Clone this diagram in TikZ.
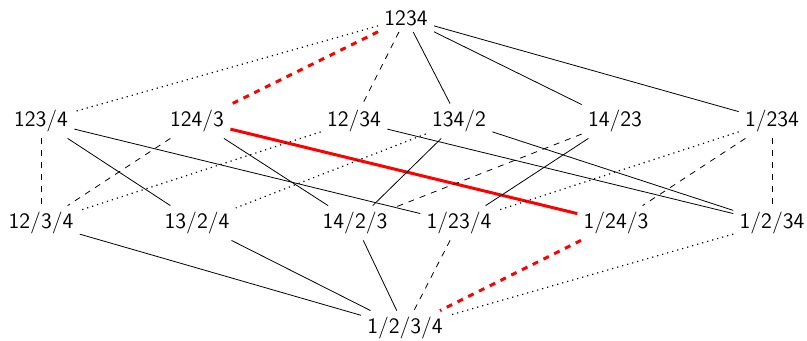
\documentclass[tikz,border=0pt]{standalone}
\begin{document}
\begin{tikzpicture}[x=0.5pt,y=-0.5pt,
	every node/.style={font=\sffamily\fontsize{11}{13}\selectfont,inner sep=3pt},
	hot/.style={red,line width=1.5pt}]
	\useasboundingbox (0,0) rectangle (807,341);
	% top
	\node (A) at (406,18) {1234};
	% second row
	\node (B1) at (41,121) {123/4};
	\node (B2) at (197,121) {124/3};
	\node (B3) at (354,121) {12/34};
	\node (B4) at (459,121) {134/2};
	\node (B5) at (615,121) {14/23};
	\node (B6) at (772,121) {1/234};
	% third row
	\node (C1) at (41,223) {12/3/4};
	\node (C2) at (197,223) {13/2/4};
	\node (C3) at (355,223) {14/2/3};
	\node (C4) at (459,223) {1/23/4};
	\node (C5) at (616,223) {1/24/3};
	\node (C6) at (772,223) {1/2/34};
	% bottom
	\node (D) at (405,328) {1/2/3/4};
	\draw[dotted,semithick] (A) -- (B1);
	\draw[hot,dashed] (A) -- (B2);
	\draw[dashed] (A) -- (B3);
	\draw (A) -- (B4);
	\draw (A) -- (B5);
	\draw (A) -- (B6);
	\draw[dashed] (B1) -- (C1);
	\draw (B1) -- (C2);
	\draw (B1) -- (C4);
	\draw[dashed] (B2) -- (C1);
	\draw (B2) -- (C3);
	\draw[hot] (B2) -- (C5);
	\draw[dotted,semithick] (B3) -- (C1);
	\draw (B3) -- (C6);
	\draw[dotted,semithick] (B4) -- (C2);
	\draw (B4) -- (C3);
	\draw (B4) -- (C6);
	\draw[dashed] (B5) -- (C3);
	\draw (B5) -- (C4);
	\draw[dotted,semithick] (B6) -- (C4);
	\draw[dashed] (B6) -- (C5);
	\draw[dashed] (B6) -- (C6);
	\draw (C1) -- (D);
	\draw (C2) -- (D);
	\draw (C3) -- (D);
	\draw[dashed] (C4) -- (D);
	\draw[hot,dashed] (C5) -- (D);
	\draw[dotted,semithick] (C6) -- (D);
\end{tikzpicture}
\end{document}
